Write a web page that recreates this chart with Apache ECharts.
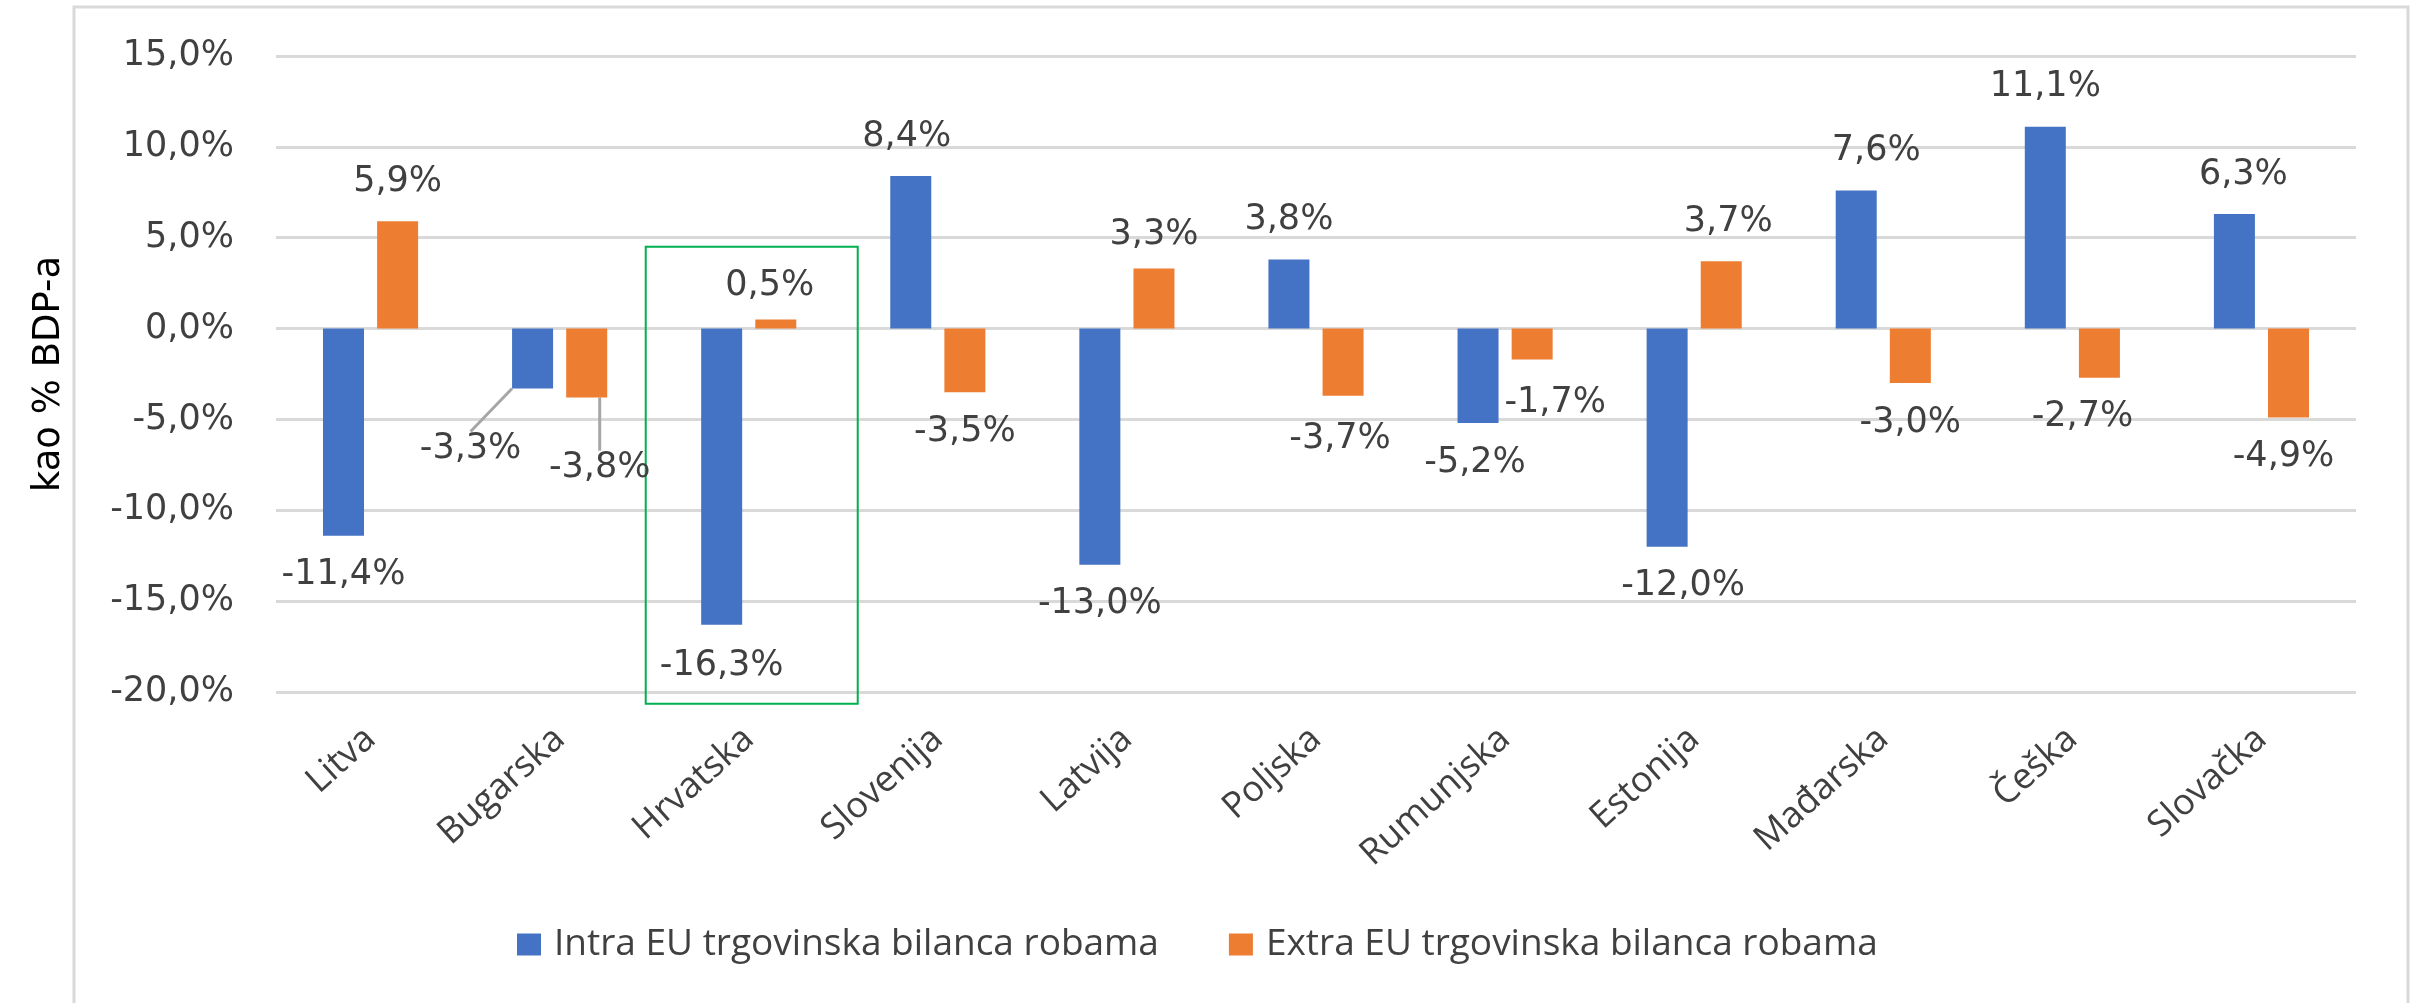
<!DOCTYPE html>
<html>
<head>
<meta charset="utf-8">
<script src="https://cdn.jsdelivr.net/npm/echarts@6/dist/echarts.min.js"></script>
<style>
    html, body { margin: 0; padding: 0; background: #fff; }
    #chart { width: 2415px; height: 1003px; }
</style>
</head>
<body>
<div id="chart"></div>
<script>
// kategorije i vrijednosti (% BDP-a)
const countries = ['Litva', 'Bugarska', 'Hrvatska', 'Slovenija', 'Latvija', 'Poljska', 'Rumunjska', 'Estonija', 'Mađarska', 'Češka', 'Slovačka']
const intraEU = [-11.4, -3.3, -16.3, 8.4, -13.0, 3.8, -5.2, -12.0, 7.6, 11.1, 6.3]
const extraEU = [5.9, -3.8, 0.5, -3.5, 3.3, -3.7, -1.7, 3.7, -3.0, -2.7, -4.9]
const seriesNames = ['Intra EU trgovinska bilanca robama', 'Extra EU trgovinska bilanca robama']
const yTicks = [-20, -15, -10, -5, 0, 5, 10, 15]

// ručni pomaci oznaka (kao u Excelu)
const intraShift = [[0, 0], [-62, 21], [0, 2], [-4, 0], [0, 0], [0, 0], [-3, 0], [16, 0], [20, 0], [0, 0], [9, 0]]
const extraShift = [[0, 0], [13, 31], [-6, 6], [0, 0], [0, 6], [-3, 4], [23, 4], [7, 0], [0, 0], [-17, 0], [-5, 0]]
const leaderIdx = 1 // Bugarska

const fmt = v => v.toFixed(1).replace('.', ',') + '%'
const labelFont = { fontFamily: 'DejaVu Sans', fontSize: 35, color: '#404040' }

function toData(arr) {
    return arr.map((v, i) => ({
        value: v,
        label: { position: v < 0 ? 'bottom' : 'top' },
        labelLine: { show: i === leaderIdx }
    }))
}

const myChart = echarts.init(document.getElementById('chart'))

myChart.setOption({
    animation: false,
    grid: { left: 276, right: 59, top: 56, bottom: 311 },
    legend: {
        left: 512,
        top: 921,
        itemWidth: 24,
        itemHeight: 22,
        itemGap: 70,
        icon: 'rect',
        textStyle: { fontFamily: 'Open Sans', fontSize: 37, color: '#404040', padding: [0, 0, 0, 8] },
        data: seriesNames
    },
    xAxis: {
        type: 'category',
        data: countries,
        axisLine: { show: false },
        axisTick: { show: false },
        axisLabel: {
            rotate: 42,
            margin: 42,
            interval: 0,
            fontFamily: 'Open Sans',
            fontSize: 36,
            color: '#404040'
        }
    },
    yAxis: {
        type: 'value',
        min: yTicks[0],
        max: yTicks[yTicks.length - 1],
        interval: 5,
        name: 'kao % BDP-a',
        nameLocation: 'middle',
        nameRotate: 90,
        nameGap: 208,
        nameTextStyle: { fontFamily: 'DejaVu Sans', fontSize: 37, color: '#000' },
        axisLabel: { formatter: fmt, margin: 42, ...labelFont },
        splitLine: { lineStyle: { color: '#d9d9d9', width: 3 } }
    },
    series: [
        {
            name: seriesNames[0],
            type: 'bar',
            data: toData(intraEU),
            barWidth: 41,
            barGap: '32%',
            itemStyle: { color: '#4472c4' },
            label: { show: true, distance: 22, formatter: p => fmt(p.value), ...labelFont },
            labelLine: { lineStyle: { color: '#a6a6a6', width: 3 } },
            labelLayout: p => ({ dx: intraShift[p.dataIndex][0], dy: intraShift[p.dataIndex][1] })
        },
        {
            name: seriesNames[1],
            type: 'bar',
            data: toData(extraEU),
            barWidth: 41,
            itemStyle: { color: '#ed7d31' },
            label: { show: true, distance: 22, formatter: p => fmt(p.value), ...labelFont },
            labelLine: { lineStyle: { color: '#a6a6a6', width: 3 } },
            labelLayout: p => ({ dx: extraShift[p.dataIndex][0], dy: extraShift[p.dataIndex][1] })
        }
    ]
})

// okvir grafikona i zeleni okvir oko Hrvatske
const cx = myChart.convertToPixel({ xAxisIndex: 0 }, 'Hrvatska')
const boxTop = myChart.convertToPixel({ yAxisIndex: 0 }, 4.5)
const boxBottom = myChart.convertToPixel({ yAxisIndex: 0 }, -20.65)
myChart.setOption({
    graphic: [
        {
            type: 'rect',
            shape: { x: 74, y: 7, width: 2334, height: 1200 },
            style: { fill: 'none', stroke: '#d9d9d9', lineWidth: 3 },
            silent: true
        },
        {
            type: 'rect',
            shape: { x: cx - 103, y: boxTop, width: 212, height: boxBottom - boxTop },
            style: { fill: 'none', stroke: '#00b050', lineWidth: 2 },
            silent: true
        }
    ]
})
</script>
</body>
</html>
